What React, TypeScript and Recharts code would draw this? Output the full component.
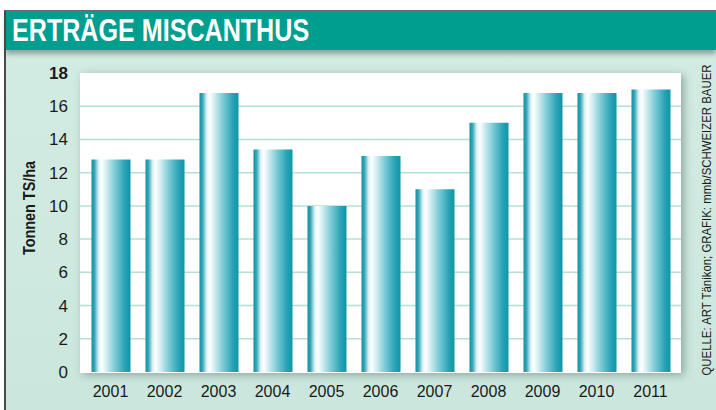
import { BarChart, Bar, XAxis, YAxis, CartesianGrid } from 'recharts'

const years = ['2001', '2002', '2003', '2004', '2005', '2006', '2007', '2008', '2009', '2010', '2011']
const ertrag = [12.8, 12.8, 16.8, 13.4, 10, 13, 11, 15, 16.8, 16.8, 17]
const yTicks = [0, 2, 4, 6, 8, 10, 12, 14, 16, 18]
const gridValues = [2, 4, 6, 8, 10, 12, 14, 16]

const title = 'ERTRÄGE MISCANTHUS'
const yLabel = 'Tonnen TS/ha'
const source = 'QUELLE: ART Tänikon; GRAFIK: mmb/SCHWEIZER BAUER'

const data = years.map((y, i) => ({ year: y, v: ertrag[i] }))

const FONT = '"Liberation Sans Narrow", "Liberation Sans", Arial, sans-serif'

// y tick, top value drawn bold like the print original
function YTick(props: any) {
  const { x, y, payload } = props
  return (
    <text
      x={x}
      y={y}
      dy={6}
      textAnchor="end"
      fontFamily={FONT}
      fontSize={17}
      fontWeight={payload.value === 18 ? 700 : 400}
      fill="#1a1a1a"
    >
      {payload.value}
    </text>
  )
}

export default function App() {
  return (
    <div
      style={{
        position: 'absolute',
        left: 0,
        top: 0,
        width: 716,
        height: 410,
        background: '#fff',
        overflow: 'hidden',
      }}
    >
      {/* mint panel with dark frame line */}
      <div
        style={{
          position: 'absolute',
          left: 4,
          top: 10,
          width: 712,
          height: 400,
          background: 'linear-gradient(180deg, #d3ece3 0%, #cbe7dd 100%)',
          borderLeft: '2px solid #4a4a4a',
          borderTop: '1px solid #6a6a6a',
        }}
      />
      {/* header band */}
      <div
        style={{
          position: 'absolute',
          left: 6,
          top: 11,
          width: 710,
          height: 39,
          background: '#009e8f',
          boxShadow: '0 4px 5px rgba(40,80,70,0.45)',
        }}
      />
      <div
        style={{
          position: 'absolute',
          left: 12,
          top: 13,
          fontFamily: FONT,
          fontWeight: 700,
          fontSize: 31,
          color: '#fff',
          lineHeight: '36px',
          whiteSpace: 'nowrap',
          transform: 'scaleX(0.81)',
          transformOrigin: 'left center',
        }}
      >
        {title}
      </div>
      {/* white plot panel with soft shadow */}
      <div
        style={{
          position: 'absolute',
          left: 80,
          top: 73,
          width: 601,
          height: 300,
          background: '#fff',
          boxShadow: '3px 2px 8px rgba(60,90,80,0.45)',
        }}
      />
      <div style={{ position: 'absolute', left: 0, top: 0 }}>
        <BarChart
          width={716}
          height={410}
          data={data}
          margin={{ top: 73, right: 35, bottom: 8, left: 0 }}
        >
          <defs>
            <linearGradient id="barFill" x1="0" y1="0" x2="1" y2="0">
              <stop offset="0%" stopColor="#0f8ea2" />
              <stop offset="8%" stopColor="#3aa9ba" />
              <stop offset="18%" stopColor="#d8f0f4" />
              <stop offset="26%" stopColor="#ffffff" />
              <stop offset="38%" stopColor="#d2edf2" />
              <stop offset="60%" stopColor="#7ccbd7" />
              <stop offset="85%" stopColor="#2aa3b5" />
              <stop offset="100%" stopColor="#0c96a9" />
            </linearGradient>
          </defs>
          <CartesianGrid
            vertical={false}
            horizontalValues={gridValues}
            stroke="#b5e0d6"
            strokeWidth={1.5}
          />
          <XAxis
            dataKey="year"
            height={30}
            axisLine={false}
            tickLine={false}
            padding={{ left: 3.5, right: 3.5 }}
            tick={{ fill: '#1a1a1a', fontSize: 16, fontFamily: FONT }}
            tickMargin={8}
            interval={0}
          />
          <YAxis
            domain={[0, 18]}
            ticks={yTicks}
            width={80}
            axisLine={false}
            tickLine={false}
            tick={<YTick />}
            tickMargin={6}
            interval={0}
          />
          <Bar dataKey="v" fill="url(#barFill)" barSize={39} isAnimationActive={false} />
        </BarChart>
      </div>
      {/* rotated axis title */}
      <div
        style={{
          position: 'absolute',
          left: 30,
          top: 208,
          transform: 'translate(-50%, -50%) rotate(-90deg) scaleX(0.9)',
          whiteSpace: 'nowrap',
          fontFamily: FONT,
          fontWeight: 700,
          fontSize: 16,
          color: '#1a1a1a',
        }}
      >
        {yLabel}
      </div>
      {/* source note */}
      <div
        style={{
          position: 'absolute',
          left: 707,
          top: 220,
          transform: 'translate(-50%, -50%) rotate(-90deg) scaleX(0.95)',
          whiteSpace: 'nowrap',
          fontFamily: FONT,
          fontSize: 12,
          color: '#1a1a1a',
        }}
      >
        {source}
      </div>
    </div>
  )
}
